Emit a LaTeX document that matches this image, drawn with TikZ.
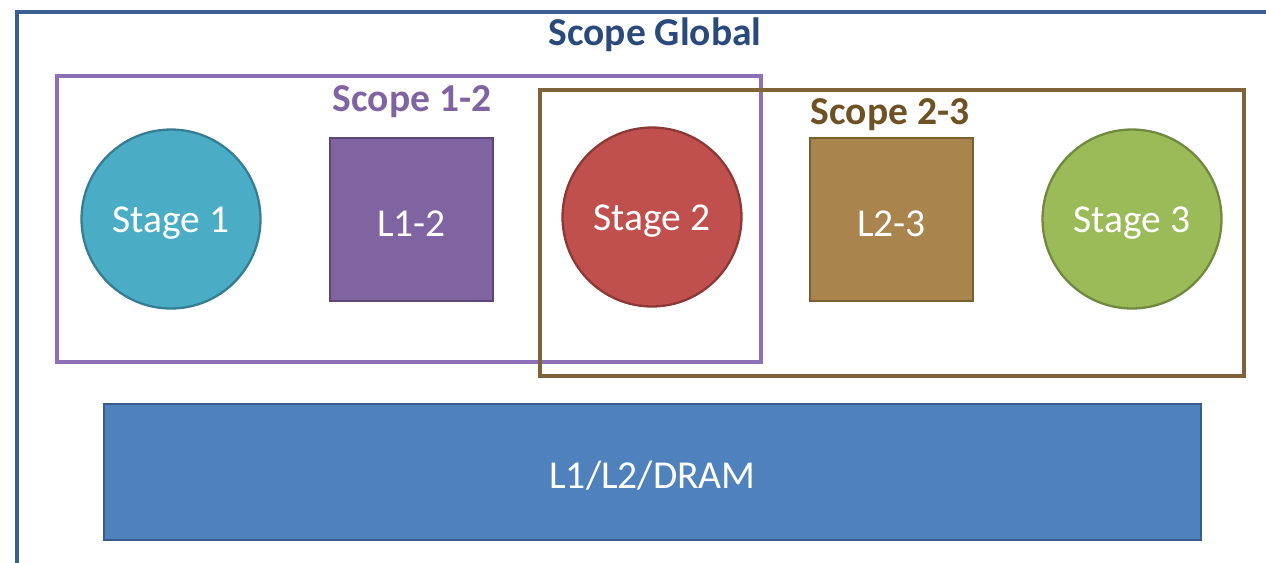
\documentclass[tikz,border=0pt]{standalone}
\usepackage{fontspec}
\setmainfont{Carlito}
\definecolor{frameblue}{HTML}{3A5F91}
\definecolor{titleblue}{HTML}{2A4A7C}
\definecolor{scpurple}{HTML}{8D70B8}
\definecolor{scpurpletxt}{HTML}{8064A2}
\definecolor{scbrown}{HTML}{7E6239}
\definecolor{scbrowntxt}{HTML}{6E5125}
\definecolor{s1fill}{HTML}{4BACC6}\definecolor{s1draw}{HTML}{357D91}
\definecolor{l12fill}{HTML}{8064A2}\definecolor{l12draw}{HTML}{5C4776}
\definecolor{s2fill}{HTML}{C0504D}\definecolor{s2draw}{HTML}{8C3836}
\definecolor{l23fill}{HTML}{A9844C}\definecolor{l23draw}{HTML}{7A5F33}
\definecolor{s3fill}{HTML}{9BBB59}\definecolor{s3draw}{HTML}{71893F}
\definecolor{dramfill}{HTML}{4F81BD}\definecolor{dramdraw}{HTML}{385D8A}
\newcommand{\lowertxt}[1]{\raisebox{-2.2pt}[\height][\depth]{#1}}
\tikzset{
  lbl/.style={font=\fontsize{22.5}{26}\selectfont},
  stagebox/.style={circle, line width=1.3pt, text=white, lbl, minimum size=3.58cm, inner sep=0pt},
  bufbox/.style={rectangle, line width=1.3pt, text=white, lbl, minimum width=3.26cm, minimum height=3.26cm, inner sep=0pt},
  scopebox/.style={rectangle, line width=2pt, minimum width=14.08cm, minimum height=5.72cm, inner sep=0pt},
  scopelbl/.style={lbl, font=\fontsize{22.5}{26}\selectfont\bfseries, inner sep=0pt}
}
\begin{document}
\begin{tikzpicture}[x=0.02cm, y=-0.02cm]
\clip (0,0) rectangle (1266,562);
\fill[white] (0,0) rectangle (1266,562);
% outer global frame (clipped at right and bottom)
\draw[frameblue, line width=2.2pt] (17,600) -- (17,12) -- (1300,12);
\node[scopelbl, text=titleblue] (gl) at (655,35) {Scope Global};
% scope boxes
\node[scopebox, draw=scpurple] (sc12) at (409,219) {};
\node[scopebox, draw=scbrown] (sc23) at (892,233) {};
\node[scopelbl, text=scpurpletxt] (sc12l) at (412,102) {Scope 1-2};
\node[scopelbl, text=scbrowntxt] (sc23l) at (890,115) {Scope 2-3};
% stages and buffers
\node[stagebox, fill=s1fill, draw=s1draw] (st1) at (171,219) {\lowertxt{Stage 1}};
\node[bufbox, fill=l12fill, draw=l12draw] (l12) at (411.5,219.5) {\lowertxt{L1-2}};
\node[stagebox, fill=s2fill, draw=s2draw] (st2) at (652,217) {\lowertxt{Stage 2}};
\node[bufbox, fill=l23fill, draw=l23draw] (l23) at (891.5,219.5) {\lowertxt{L2-3}};
\node[stagebox, fill=s3fill, draw=s3draw] (st3) at (1132,219) {\lowertxt{Stage 3}};
% memory
\node[rectangle, fill=dramfill, draw=dramdraw, line width=1.3pt, text=white, lbl,
      minimum width=21.94cm, minimum height=2.72cm, inner sep=0pt] (dram) at (652.5,472) {\lowertxt{L1/L2/DRAM}};
\end{tikzpicture}
\end{document}
